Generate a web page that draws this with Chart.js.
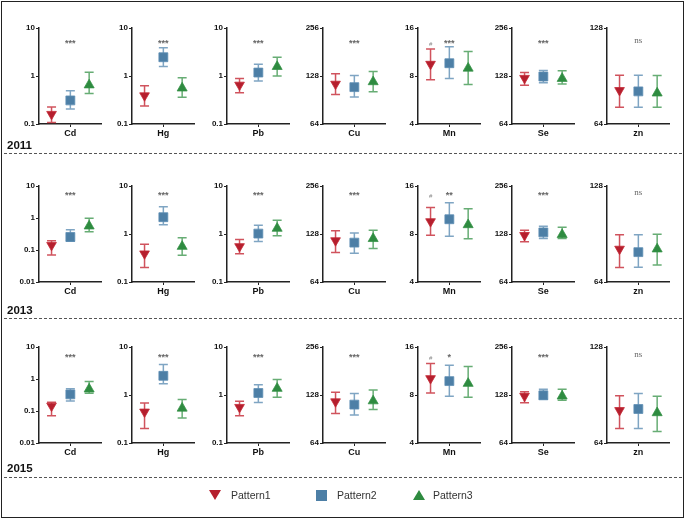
<!DOCTYPE html>
<html>
<head>
<meta charset="utf-8">
<script src="https://cdn.jsdelivr.net/npm/chart.js@4.4.0/dist/chart.umd.min.js"></script>
<style>
  body { margin: 0; background: #fff; }
  #fig { position: relative; width: 685px; height: 519px; font-family: "Liberation Sans", Arial, sans-serif; overflow: hidden; }
  #frame { position: absolute; left: 1px; top: 1px; width: 683px; height: 517px; box-sizing: border-box; border: 1.5px solid #222; }
  .panel { position: absolute; }
  .year { position: absolute; left: 7px; font-weight: bold; font-size: 11.5px; color: #111; line-height: 12px; }
  .dash { position: absolute; left: 4px; width: 678px; border-top: 1px dashed #555; }
  .leg { position: absolute; font-size: 10.5px; color: #333; line-height: 12px; }
  .mk { position: absolute; width: 0; height: 0; }
</style>
</head>
<body>
<div id="fig">
  <div id="frame"></div>
</div>
<script>
// Elements (panels) and groups
const elements = ['Cd', 'Hg', 'Pb', 'Cu', 'Mn', 'Se', 'zn'];
const years = ['2011', '2013', '2015'];
const patterns = ['Pattern1', 'Pattern2', 'Pattern3'];

// Y tick labels per panel (log axes)
const ticks2011 = [[0.1, 1, 10], [0.1, 1, 10], [0.1, 1, 10], [64, 128, 256], [4, 8, 16], [64, 128, 256], [64, 128]];
const ticks2013 = [[0.01, 0.1, 1, 10], [0.1, 1, 10], [0.1, 1, 10], [64, 128, 256], [4, 8, 16], [64, 128, 256], [64, 128]];
const ticks2015 = [[0.01, 0.1, 1, 10], [0.1, 1, 10], [0.1, 1, 10], [64, 128, 256], [4, 8, 16], [64, 128, 256], [64, 128]];

// Means, lower and upper bars: [Pattern1, Pattern2, Pattern3], each over elements
const mean2011 = [
    [0.16, 0.39, 0.65, 114, 9.5, 124, 81.6],
    [0.31, 2.46, 1.18, 109, 9.62, 127, 81],
    [0.65, 0.56, 1.57, 117.7, 8.95, 123.5, 80]
];
const low2011 = [
    [0.108, 0.237, 0.45, 98, 7.57, 112, 72.2],
    [0.205, 1.57, 0.79, 94.5, 7.72, 116, 72.2],
    [0.43, 0.36, 1.0, 102, 7.08, 114, 72.2]
];
const high2011 = [
    [0.225, 0.625, 0.89, 132, 11.8, 134.6, 91],
    [0.49, 3.9, 1.76, 129, 12.2, 138.5, 91],
    [1.2, 0.92, 2.46, 136.6, 11.4, 138, 90.8]
];

const mean2013 = [
    [0.141, 0.388, 0.55, 116.4, 9.58, 125.6, 81.2],
    [0.256, 2.24, 1.02, 113, 9.9, 131, 79.4],
    [0.56, 0.55, 1.31, 119.7, 9.14, 126.8, 81.2]
];
const low2013 = [
    [0.07, 0.2, 0.39, 98, 7.85, 114.3, 71.1],
    [0.188, 1.55, 0.70, 97, 7.74, 120, 71.2],
    [0.37, 0.36, 0.92, 103.9, 7.48, 120, 72.3]
];
const high2013 = [
    [0.193, 0.61, 0.77, 134, 11.75, 135, 90],
    [0.43, 3.7, 1.53, 130, 12.56, 143, 90],
    [0.99, 0.84, 1.94, 135, 11.53, 141, 90.3]
];

const mean2015 = [
    [0.144, 0.445, 0.556, 116.3, 10.16, 126, 81],
    [0.331, 2.51, 1.1, 111.4, 9.78, 127.4, 81.8],
    [0.485, 0.53, 1.37, 117.5, 9.45, 126, 79.6]
];
const low2015 = [
    [0.0705, 0.2, 0.37, 98.1, 8.23, 114.6, 71],
    [0.206, 1.71, 0.70, 95.8, 7.85, 120.4, 71],
    [0.356, 0.33, 0.9, 103.8, 7.74, 118.6, 69.6]
];
const high2015 = [
    [0.187, 0.68, 0.74, 133, 12.6, 134.3, 90],
    [0.50, 4.3, 1.64, 131, 12.3, 139, 91.5],
    [0.84, 0.81, 2.11, 137.5, 12.07, 139, 89.7]
];

// Significance marks (over Pattern2) and extra marks (over Pattern1)
const sig2011 = ['***', '***', '***', '***', '***', '***', 'ns'];
const sig2013 = ['***', '***', '***', '***', '**', '***', 'ns'];
const sig2015 = ['***', '***', '***', '***', '*', '***', 'ns'];
const hashMarks = ['', '', '', '', '#', '', ''];

// Layout
const colX = [39, 132, 227, 323, 418, 512, 607];
const rowTop = [28, 186, 347];
const sigOffset = [14, 8, 9];
const yearLabelY = [139, 304, 462];
const dashY = [153, 318, 477];
const plotW = 65, plotH = 96, padL = 30, padT = 8, padR = 5, padB = 24;

const markerColors = ['#b51f2e', '#4d7fa6', '#2e8b40'];
const barColors = ['rgba(196,40,52,0.8)', 'rgba(95,142,180,0.8)', 'rgba(52,145,70,0.75)'];
const pointStyles = ['triangle', 'rect', 'triangle'];
const pointRotations = [180, 0, 0];
const pointRadii = [5.6, 6.3, 5.8];

const rowData = [
    [ticks2011, mean2011, low2011, high2011, sig2011],
    [ticks2013, mean2013, low2013, high2013, sig2013],
    [ticks2015, mean2015, low2015, high2015, sig2015]
];

const errorBars = {
    id: 'errorBars',
    beforeDatasetsDraw(chart) {
        const { ctx, scales: { x, y } } = chart;
        ctx.save();
        chart.data.datasets.forEach(ds => {
            ds.data.forEach((pt, k) => {
                const px = x.getPixelForValue(pt.x);
                const top = y.getPixelForValue(ds.errHigh[k]);
                const bot = y.getPixelForValue(ds.errLow[k]);
                ctx.strokeStyle = ds.errColor;
                ctx.lineWidth = 1.5;
                ctx.beginPath();
                ctx.moveTo(px, top); ctx.lineTo(px, bot);
                ctx.moveTo(px - 4.5, top); ctx.lineTo(px + 4.5, top);
                ctx.moveTo(px - 4.5, bot); ctx.lineTo(px + 4.5, bot);
                ctx.stroke();
            });
        });
        ctx.restore();
    }
};

const sigMarks = {
    id: 'sigMarks',
    afterDatasetsDraw(chart, args, opts) {
        const { ctx, chartArea, scales: { x } } = chart;
        ctx.save();
        ctx.textAlign = 'center';
        ctx.textBaseline = 'middle';
        ctx.fillStyle = '#666';
        const yy = chartArea.top + opts.offset;
        if (opts.main === 'ns') {
            ctx.font = '9px "Liberation Serif", serif';
        } else {
            ctx.font = 'bold 9px "Liberation Sans", Arial, sans-serif';
        }
        ctx.fillText(opts.main, x.getPixelForValue(2), yy + (opts.main === 'ns' ? -1 : 2));
        if (opts.extra) {
            ctx.font = '6px "Liberation Sans", Arial, sans-serif';
            ctx.fillStyle = '#888';
            ctx.fillText(opts.extra, x.getPixelForValue(1), yy + 2);
        }
        ctx.restore();
    }
};

const fig = document.getElementById('fig');

function makePanel(r, c) {
    const [ticks, mean, low, high, sig] = rowData[r];
    const canvas = document.createElement('canvas');
    const w = padL + plotW + padR, h = padT + plotH + padB;
    canvas.width = w; canvas.height = h;
    canvas.className = 'panel';
    canvas.style.left = (colX[c] - padL) + 'px';
    canvas.style.top = (rowTop[r] - padT) + 'px';
    canvas.style.width = w + 'px';
    canvas.style.height = h + 'px';
    fig.appendChild(canvas);

    const yt = ticks[c];
    const datasets = patterns.map((p, i) => ({
        label: p,
        data: [{ x: i + 1, y: mean[i][c] }],
        errLow: [low[i][c]],
        errHigh: [high[i][c]],
        errColor: barColors[i],
        pointStyle: pointStyles[i],
        rotation: pointRotations[i],
        radius: pointRadii[i],
        backgroundColor: markerColors[i],
        borderColor: barColors[i],
        borderWidth: 1
    }));

    new Chart(canvas, {
        type: 'scatter',
        data: { datasets },
        plugins: [errorBars, sigMarks],
        options: {
            responsive: false,
            animation: false,
            devicePixelRatio: 1,
            layout: { padding: { top: padT, right: padR, left: 0, bottom: 0 } },
            plugins: {
                legend: { display: false },
                tooltip: { enabled: false },
                sigMarks: { main: sig[c], extra: hashMarks[c], offset: sigOffset[r] }
            },
            scales: {
                x: {
                    type: 'linear',
                    min: 0.333,
                    max: 3.667,
                    afterBuildTicks: s => { s.ticks = [{ value: 2 }]; },
                    afterFit: s => { s.height = padB; },
                    ticks: {
                        callback: () => elements[c],
                        font: { family: '"Liberation Sans", Arial, sans-serif', size: 9, weight: 'bold' },
                        color: '#111',
                        padding: 1,
                        maxRotation: 0
                    },
                    grid: { drawOnChartArea: false, tickLength: 3, color: '#222', lineWidth: 1 },
                    border: { display: true, color: '#222', width: 1.5 }
                },
                y: {
                    type: 'logarithmic',
                    min: yt[0],
                    max: yt[yt.length - 1],
                    afterBuildTicks: s => { s.ticks = yt.map(v => ({ value: v, major: true })); },
                    afterFit: s => { s.width = padL; },
                    ticks: {
                        callback: v => String(v),
                        font: { family: '"Liberation Sans", Arial, sans-serif', size: 8, weight: 'bold' },
                        color: '#111',
                        padding: 1
                    },
                    grid: { drawOnChartArea: false, tickLength: 3, color: '#222', lineWidth: 1 },
                    border: { display: true, color: '#222', width: 1.5 }
                }
            }
        }
    });
}

years.forEach((yr, r) => {
    elements.forEach((el, c) => makePanel(r, c));

    const lab = document.createElement('div');
    lab.className = 'year';
    lab.style.top = yearLabelY[r] + 'px';
    lab.textContent = yr;
    fig.appendChild(lab);

    const d = document.createElement('div');
    d.className = 'dash';
    d.style.top = dashY[r] + 'px';
    fig.appendChild(d);
});

// Legend
const legendX = [215, 321, 419];
const legendTextX = [231, 337, 433];
const legendY = 495;
patterns.forEach((p, i) => {
    const mk = document.createElement('div');
    mk.className = 'mk';
    if (i === 0) {
        mk.style.borderLeft = '6px solid transparent';
        mk.style.borderRight = '6px solid transparent';
        mk.style.borderTop = '10px solid ' + markerColors[0];
        mk.style.left = (legendX[i] - 6) + 'px';
        mk.style.top = (legendY - 5) + 'px';
    } else if (i === 1) {
        mk.style.width = '11px';
        mk.style.height = '11px';
        mk.style.background = markerColors[1];
        mk.style.left = (legendX[i] - 5.5) + 'px';
        mk.style.top = (legendY - 5.5) + 'px';
    } else {
        mk.style.borderLeft = '6px solid transparent';
        mk.style.borderRight = '6px solid transparent';
        mk.style.borderBottom = '10px solid ' + markerColors[2];
        mk.style.left = (legendX[i] - 6) + 'px';
        mk.style.top = (legendY - 5) + 'px';
    }
    fig.appendChild(mk);

    const t = document.createElement('div');
    t.className = 'leg';
    t.style.left = legendTextX[i] + 'px';
    t.style.top = (legendY - 6) + 'px';
    t.textContent = p;
    fig.appendChild(t);
});
</script>
</body>
</html>
